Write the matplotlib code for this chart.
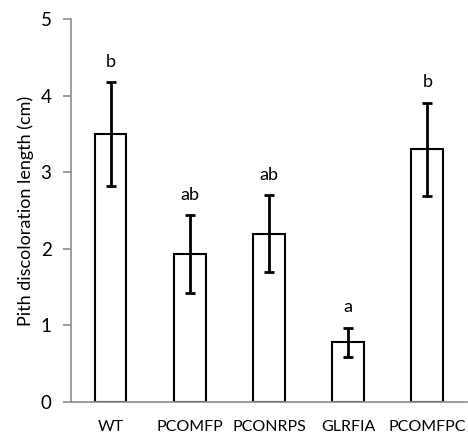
import matplotlib.pyplot as plt
import numpy as np

plt.rcParams['font.family'] = ['Lato', 'DejaVu Sans']

strains = ['WT', 'PCOMFP', 'PCONRPS', 'GLRFIA', 'PCOMFPC']
lengths = [3.50, 1.93, 2.20, 0.78, 3.30]
errors = [0.68, 0.51, 0.50, 0.19, 0.61]
letters = ['b', 'ab', 'ab', 'a', 'b']

axiscolor = '#8c8c8c'

fig = plt.figure(figsize=(4.68, 4.36), dpi=100)
ax = fig.add_axes([0.1517, 0.078, 0.846, 0.878])

x = np.arange(len(strains))
ax.bar(x, lengths, width=0.4, color='white', edgecolor='black', linewidth=1.5)
ax.errorbar(x, lengths, yerr=errors, fmt='none', ecolor='black',
            elinewidth=2, capsize=3.6, capthick=2)

for xi, m, e, t in zip(x, lengths, errors, letters):
    ax.text(xi, m + e + 0.16, t, ha='center', va='bottom', fontsize=13)

ax.set_xlim(-0.5, len(strains) - 0.5)
ax.set_ylim(0, 5)
ax.set_yticks(range(6))
ax.set_xticks(x)
ax.set_xticklabels(strains, fontsize=11.5)
ax.tick_params(axis='y', labelsize=13.5, length=6, width=1.2, color=axiscolor, pad=8)
ax.tick_params(axis='x', length=0, pad=13)
ax.set_ylabel('Pith discoloration length (cm)', fontsize=13, labelpad=5)

for s in ['top', 'right']:
    ax.spines[s].set_visible(False)
for s in ['left', 'bottom']:
    ax.spines[s].set_color(axiscolor)
    ax.spines[s].set_linewidth(1.2)

plt.savefig('out.png', dpi=100)
